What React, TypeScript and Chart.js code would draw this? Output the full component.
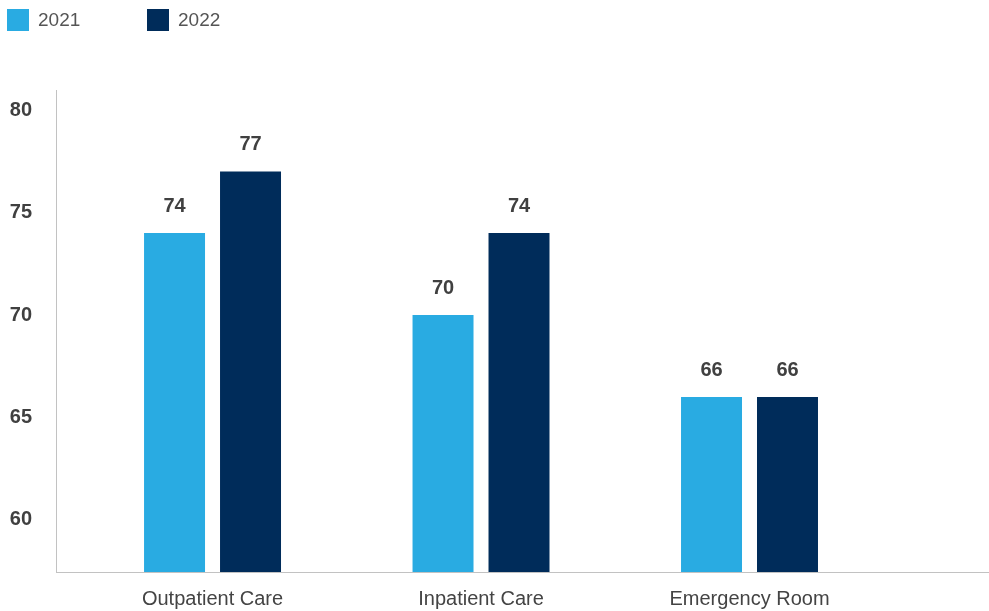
import React, { useEffect, useRef } from "react";
import { Chart, registerables } from "chart.js";

Chart.register(...registerables);

const categories = ["Outpatient Care", "Inpatient Care", "Emergency Room"];
const seriesNames = ["2021", "2022"];
const values2021 = [74, 70, 66];
const values2022 = [77, 74, 66];
const yTicks = [60, 65, 70, 75, 80];
const colors = ["#29abe2", "#002c5a"];

const FONT = "'Liberation Sans', Arial, sans-serif";

const legendPlugin = {
  id: "topLegend",
  afterDraw(chart: any) {
    const ctx = chart.ctx;
    ctx.save();
    chart.data.datasets.forEach((ds: any, i: number) => {
      const x = 7 + i * 140;
      ctx.fillStyle = ds.backgroundColor;
      ctx.fillRect(x, 9, 22, 22);
      ctx.fillStyle = "#555555";
      ctx.font = `19px ${FONT}`;
      ctx.textBaseline = "middle";
      ctx.textAlign = "left";
      ctx.fillText(ds.label, x + 31, 20.5);
    });
    ctx.restore();
  },
};

const valueLabelPlugin = {
  id: "valueLabels",
  afterDatasetsDraw(chart: any) {
    const ctx = chart.ctx;
    ctx.save();
    ctx.font = `bold 20px ${FONT}`;
    ctx.fillStyle = "#404040";
    ctx.textAlign = "center";
    ctx.textBaseline = "middle";
    chart.data.datasets.forEach((ds: any, di: number) => {
      const meta = chart.getDatasetMeta(di);
      meta.data.forEach((el: any, i: number) => {
        ctx.fillText(String(ds.data[i].y), el.x, el.y - 27);
      });
    });
    ctx.restore();
  },
};

export default function App() {
  const ref = useRef<HTMLCanvasElement | null>(null);
  useEffect(() => {
    document.body.style.margin = "0";
    const chart = new Chart(ref.current as HTMLCanvasElement, {
      type: "bar",
      data: {
        datasets: [
          {
            label: seriesNames[0],
            data: values2021.map((v, i) => ({ x: i, y: v })),
            backgroundColor: colors[0],
          },
          {
            label: seriesNames[1],
            data: values2022.map((v, i) => ({ x: i, y: v })),
            backgroundColor: colors[1],
          },
        ] as any,
      },
      options: {
        animation: false,
        responsive: false,
        categoryPercentage: 0.566,
        barPercentage: 0.8026,
        layout: { padding: { top: 90, left: 0, right: 0, bottom: 0 } },
        plugins: {
          legend: { display: false },
          tooltip: { enabled: false },
        },
        scales: {
          x: {
            type: "linear",
            offset: false,
            min: -0.583,
            max: 2.892,
            grid: { display: false, drawTicks: false, offset: false },
            border: { display: true, color: "#c2c2c2", width: 1 },
            afterBuildTicks: (scale: any) => {
              scale.ticks = categories.map((_, i) => ({ value: i }));
            },
            afterFit: (scale: any) => {
              scale.height = 39;
            },
            ticks: {
              autoSkip: false,
              maxRotation: 0,
              padding: 15,
              color: "#444444",
              font: { family: FONT, size: 20 },
              callback: (v: any) => categories[v] ?? "",
            },
          },
          y: {
            type: "linear",
            min: 57.46,
            max: 80.98,
            grid: { display: false, drawTicks: false },
            border: { display: true, color: "#c2c2c2", width: 1 },
            afterBuildTicks: (scale: any) => {
              scale.ticks = yTicks.map((v) => ({ value: v }));
            },
            afterFit: (scale: any) => {
              scale.width = 56;
            },
            ticks: {
              padding: 24,
              color: "#404040",
              font: { family: FONT, size: 20, weight: "bold" },
            },
          },
        },
      } as any,
      plugins: [legendPlugin, valueLabelPlugin],
    });
    return () => chart.destroy();
  }, []);
  return (
    <div style={{ position: "absolute", left: 0, top: 0, width: 989, height: 611 }}>
      <canvas ref={ref} width={989} height={611} style={{ display: "block" }} />
    </div>
  );
}
